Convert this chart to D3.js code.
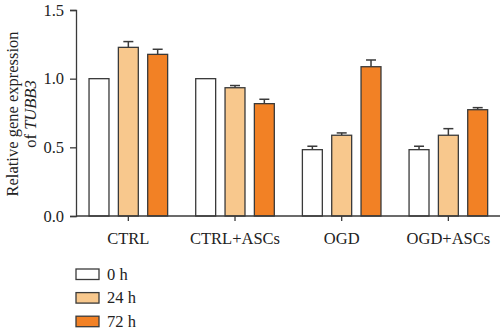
<!DOCTYPE html>
<html><head><meta charset="utf-8">
<script src="https://cdn.jsdelivr.net/npm/d3@7"></script>
<style>body{margin:0;background:#fff}svg{display:block}text{font-family:"Liberation Serif","DejaVu Serif",serif;fill:#222}</style>
</head><body>
<svg id="c" width="500" height="331"></svg>
<script>
const categories = ["CTRL", "CTRL+ASCs", "OGD", "OGD+ASCs"];
const seriesNames = ["0 h", "24 h", "72 h"];
const values0h  = [1.0, 1.0, 0.483, 0.483];
const values24h = [1.228, 0.934, 0.588, 0.588];
const values72h = [1.177, 0.818, 1.087, 0.774];
const err0h  = [0, 0, 0.025, 0.025];
const err24h = [0.042, 0.016, 0.017, 0.048];
const err72h = [0.037, 0.032, 0.049, 0.015];
const yTicks = [0, 0.5, 1.0, 1.5];
const colors = ["#ffffff", "#f8c88d", "#f28125"];

const series = [values0h, values24h, values72h];
const errs = [err0h, err24h, err72h];
const FS = 16.5;
const svg = d3.select("#c");
const x0 = d3.scaleBand().domain(categories).range([75, 501.7]);
const x1 = d3.scaleBand().domain(seriesNames).range([-39.3, 39.3]).paddingInner(0.32).paddingOuter(0);
const y = d3.scaleLinear().domain([0, 1.5]).range([216, 10]);
const stroke = "#3a3a3a";

// bars
categories.forEach((c, ci) => {
  const cx = x0(c) + x0.bandwidth() / 2;
  seriesNames.forEach((s, si) => {
    const v = series[si][ci], e = errs[si][ci];
    const bx = cx + x1(s);
    const w = x1.bandwidth();
    if (e > 0) {
      const mx = bx + w / 2;
      svg.append("line").attr("x1", mx).attr("x2", mx).attr("y1", y(v)).attr("y2", y(v + e))
        .attr("stroke", stroke).attr("stroke-width", 1.5);
      svg.append("line").attr("x1", mx - 5).attr("x2", mx + 5).attr("y1", y(v + e)).attr("y2", y(v + e))
        .attr("stroke", stroke).attr("stroke-width", 1.5);
    }
    svg.append("rect").attr("x", bx).attr("y", y(v)).attr("width", w).attr("height", y(0) - y(v))
      .attr("fill", colors[si]).attr("stroke", stroke).attr("stroke-width", 1.3);
  });
});

// y axis
const ya = svg.append("g").attr("transform", "translate(76,0)")
  .call(d3.axisLeft(y).tickValues(yTicks).tickFormat(d3.format(".1f")).tickSize(6).tickPadding(6));
ya.select(".domain").attr("stroke", stroke).attr("stroke-width", 1.3);
ya.selectAll(".tick line").attr("stroke", stroke).attr("stroke-width", 1.3);
ya.selectAll("text").attr("font-size", FS).attr("fill", "#222").attr("font-family", "Liberation Serif");

// x axis
svg.append("line").attr("x1", 76).attr("x2", 500).attr("y1", y(0)).attr("y2", y(0))
  .attr("stroke", stroke).attr("stroke-width", 1.3);
const xa = svg.append("g").attr("transform", `translate(0,${y(0)})`)
  .call(d3.axisBottom(x0).tickSize(5).tickPadding(11));
xa.select(".domain").remove();
xa.selectAll(".tick line").attr("stroke", stroke).attr("stroke-width", 1.3);
xa.selectAll("text").attr("font-size", FS).attr("fill", "#222").attr("font-family", "Liberation Serif");

// y label
const yl = svg.append("text").attr("transform", "translate(18,114) rotate(-90)")
  .attr("text-anchor", "middle").attr("font-size", FS);
yl.append("tspan").attr("x", 0).attr("dy", 0).text("Relative gene expression");
const l2 = yl.append("tspan").attr("x", 0).attr("dy", 18);
l2.text("of ");
yl.append("tspan").attr("font-style", "italic").text("TUBB3");

// legend
const lg = svg.append("g");
seriesNames.forEach((s, i) => {
  const yy = 269 + i * 23.6;
  lg.append("rect").attr("x", 76).attr("y", yy).attr("width", 23).attr("height", 10.5)
    .attr("fill", colors[i]).attr("stroke", stroke).attr("stroke-width", 1.3);
  lg.append("text").attr("x", 107).attr("y", yy + 10.5).attr("font-size", FS).text(s);
});
</script>
</body></html>
